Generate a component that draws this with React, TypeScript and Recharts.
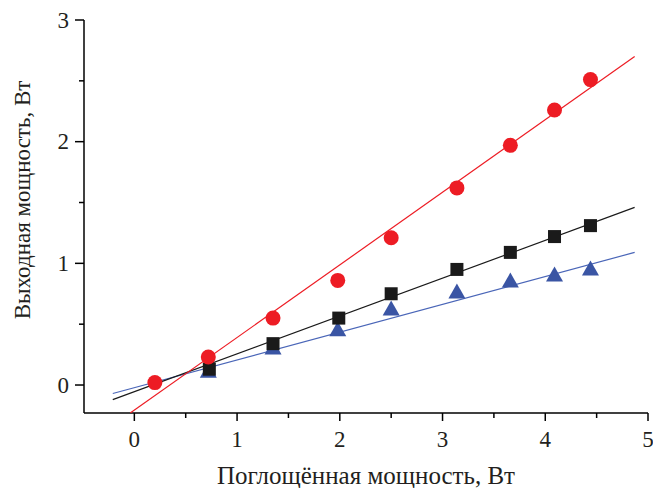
import React from 'react';
import { ScatterChart, Scatter, XAxis, YAxis, Label } from 'recharts';

// measured points (absorbed power, W -> output power, W)
const redPoints = [
  { x: 0.2, y: 0.02 },
  { x: 0.72, y: 0.23 },
  { x: 1.35, y: 0.55 },
  { x: 1.98, y: 0.86 },
  { x: 2.5, y: 1.21 },
  { x: 3.14, y: 1.62 },
  { x: 3.66, y: 1.97 },
  { x: 4.09, y: 2.26 },
  { x: 4.44, y: 2.51 },
];

// the first black/blue points sit under the red circle at x = 0.2
const blackPoints = [
  { x: 0.73, y: 0.13 },
  { x: 1.35, y: 0.34 },
  { x: 1.99, y: 0.55 },
  { x: 2.5, y: 0.75 },
  { x: 3.14, y: 0.95 },
  { x: 3.66, y: 1.09 },
  { x: 4.09, y: 1.22 },
  { x: 4.44, y: 1.31 },
];

const bluePoints = [
  { x: 0.72, y: 0.11 },
  { x: 1.35, y: 0.3 },
  { x: 1.98, y: 0.45 },
  { x: 2.5, y: 0.62 },
  { x: 3.14, y: 0.76 },
  { x: 3.66, y: 0.85 },
  { x: 4.09, y: 0.9 },
  { x: 4.44, y: 0.95 },
];

// linear fits, end points
const redFit = [
  { x: -0.04, y: -0.23 },
  { x: 4.87, y: 2.7 },
];
const blackFit = [
  { x: -0.21, y: -0.12 },
  { x: 4.87, y: 1.46 },
];
const blueFit = [
  { x: -0.21, y: -0.07 },
  { x: 4.87, y: 1.09 },
];

const xTicks = [0, 0.5, 1, 1.5, 2, 2.5, 3, 3.5, 4, 4.5, 5];
const yTicks = [0, 0.5, 1, 1.5, 2, 2.5, 3];

const FONT = '"Liberation Serif", "DejaVu Serif", serif';
const TEXT = '#231f20';

const XTick = (props: any) => {
  const { x, y, payload } = props;
  const major = Number.isInteger(payload.value);
  return (
    <g>
      <line x1={x} x2={x} y1={y} y2={y + (major ? 8 : 5)} stroke="#000" strokeWidth={1.5} />
      {major && (
        <text x={x} y={y + 26} textAnchor="middle" dominantBaseline="central" fontSize={23} fontFamily={FONT} fill={TEXT}>
          {payload.value}
        </text>
      )}
    </g>
  );
};

const YTick = (props: any) => {
  const { x, y, payload } = props;
  const major = Number.isInteger(payload.value);
  return (
    <g>
      <line x1={x} x2={x - (major ? 9 : 5)} y1={y} y2={y} stroke="#000" strokeWidth={1.5} />
      {major && (
        <text x={x - 15} y={y} textAnchor="end" dominantBaseline="central" fontSize={23} fontFamily={FONT} fill={TEXT}>
          {payload.value}
        </text>
      )}
    </g>
  );
};

const Circle = (props: any) => <circle cx={props.cx} cy={props.cy} r={7.5} fill="#ed1c24" />;
const Square = (props: any) => (
  <rect x={props.cx - 6.5} y={props.cy - 6.5} width={13} height={13} fill="#1a1a1a" />
);
const Triangle = (props: any) => {
  const { cx, cy } = props;
  return <polygon points={`${cx},${cy - 9} ${cx + 8.5},${cy + 6} ${cx - 8.5},${cy + 6}`} fill="#3a55a4" />;
};
const NoDot = () => null;

const App = () => {
  return (
    <div style={{ position: 'absolute', left: 0, top: 0, background: '#fff' }}>
      <ScatterChart width={653} height={488} margin={{ top: 20, right: 5, bottom: 25, left: 10 }}>
        <XAxis
          type="number"
          dataKey="x"
          domain={[-0.49, 5]}
          ticks={xTicks}
          interval={0}
          tick={<XTick />}
          tickLine={false}
          tickSize={0}
          tickMargin={0}
          height={50}
          axisLine={{ stroke: '#000', strokeWidth: 1.5 }}
          allowDataOverflow
        >
          <Label
            content={(p: any) => {
              const vb = p.viewBox;
              const cx = vb.x + vb.width / 2;
              return (
                <text x={cx} y={475} textAnchor="middle" dominantBaseline="central" fontSize={25} fontFamily={FONT} fill={TEXT}>
                  Поглощённая мощность, Вт
                </text>
              );
            }}
          />
        </XAxis>
        <YAxis
          type="number"
          dataKey="y"
          domain={[-0.23, 3]}
          ticks={yTicks}
          interval={0}
          tick={<YTick />}
          tickLine={false}
          tickSize={0}
          tickMargin={0}
          width={74}
          axisLine={{ stroke: '#000', strokeWidth: 1.5 }}
          allowDataOverflow
        >
          <Label
            content={() => {
              const cx = 22;
              const cy = 200;
              return (
                <text
                  x={cx}
                  y={cy}
                  transform={`rotate(-90 ${cx} ${cy})`}
                  textAnchor="middle"
                  dominantBaseline="central"
                  fontSize={23}
                  fontFamily={FONT}
                  fill={TEXT}
                >
                  Выходная мощность, Вт
                </text>
              );
            }}
          />
        </YAxis>
        <Scatter data={blueFit} line={{ stroke: '#4a66b8', strokeWidth: 1.2 }} lineType="joint" shape={<NoDot />} isAnimationActive={false} />
        <Scatter data={blackFit} line={{ stroke: '#1a1a1a', strokeWidth: 1.2 }} lineType="joint" shape={<NoDot />} isAnimationActive={false} />
        <Scatter data={redFit} line={{ stroke: '#ed1c24', strokeWidth: 1.2 }} lineType="joint" shape={<NoDot />} isAnimationActive={false} />
        <Scatter data={bluePoints} shape={<Triangle />} isAnimationActive={false} />
        <Scatter data={blackPoints} shape={<Square />} isAnimationActive={false} />
        <Scatter data={redPoints} shape={<Circle />} isAnimationActive={false} />
      </ScatterChart>
    </div>
  );
};

export default App;
